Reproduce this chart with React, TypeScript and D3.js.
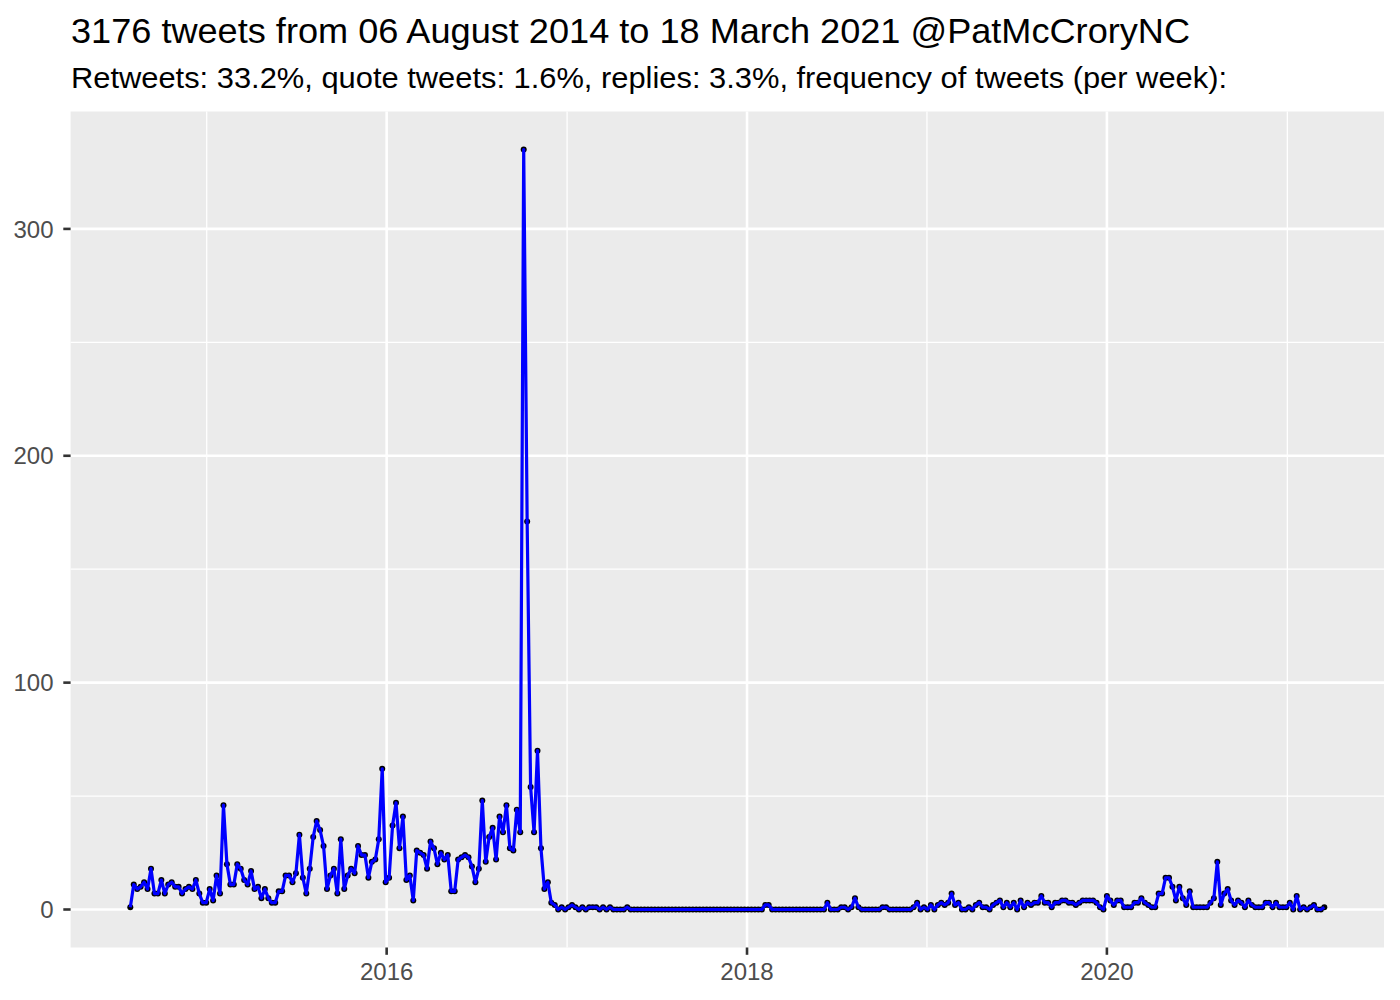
import React from "react";
import * as d3 from "d3";

// ---- data ----
const titleText = "3176 tweets from 06 August 2014 to 18 March 2021 @PatMcCroryNC";
const subtitleText =
  "Retweets: 33.2%, quote tweets: 1.6%, replies: 3.3%, frequency of tweets (per week):";

const firstWeek = "2014-07-30";

const weeklyCounts = [
  1, 11, 9, 10, 12, 9, 18, 7, 7, 13, 7, 11, 12, 10, 10, 7, 9, 10, 9, 13, 7, 3, 3, 9, 4, 15, 7, 46,
  20, 11, 11, 20, 18, 13, 11, 17, 9,
  10, 5, 9, 5, 3, 3, 8, 8, 15, 15, 12, 16, 33, 14, 7, 18, 32, 39, 35, 28, 9, 15, 18, 7, 31, 9, 15,
  18, 16, 28, 24, 24, 14, 21, 22, 31, 62,
  12, 14, 37, 47, 27, 41, 13, 15, 4, 26, 25, 24, 18, 30, 27, 20, 25, 22, 24, 8, 8, 22, 23, 24, 23,
  19, 12, 18, 48, 21, 32, 36, 22, 41, 34, 46, 27, 26, 44, 34,
  335, 171, 54, 34, 70, 27, 9, 12, 3, 2, 0, 1, 0, 1, 2,
  1, 0, 1, 0, 1, 1, 1, 0, 1, 0, 1, 0, 0, 0, 0, 1,
  0, 0, 0, 0, 0, 0, 0, 0, 0, 0, 0, 0, 0, 0, 0, 0, 0, 0, 0, 0, 0, 0, 0, 0, 0, 0, 0, 0, 0, 0, 0, 0,
  0, 0, 0, 0, 0, 0, 0,
  2, 2,
  0, 0, 0, 0, 0, 0, 0, 0, 0, 0, 0, 0, 0, 0, 0, 0,
  3, 0, 0, 0, 1, 1, 0, 1, 5, 1, 0, 0, 0, 0, 0, 0, 1, 1, 0, 0, 0, 0, 0, 0, 0, 1, 3, 0, 1, 0, 2, 0, 2,
  3, 2, 3, 7, 2, 3, 0, 0, 1, 0, 2, 3, 1, 1, 0, 2, 3, 4, 1, 3, 1, 3, 0, 4, 1, 3, 2, 3, 3, 6, 3, 3,
  1, 3, 3, 4, 4, 3, 3, 2, 3, 4, 4, 4, 4, 3, 1, 0, 6,
  4, 2, 4, 4, 1, 1, 1, 3, 3, 5, 3, 2, 1, 1,
  7, 7, 14, 14, 10, 4, 10, 5, 2, 8, 1, 1, 1, 1, 1, 3, 5, 21, 2, 7, 9, 4, 2, 4, 3, 1, 4, 2, 1, 1,
  1, 3, 3, 1, 3, 1, 1, 1, 3, 0, 6, 0, 1, 0, 1, 2, 0, 0, 1,
];

const yTickValues = [0, 100, 200, 300];
const yMinorValues = [50, 150, 250];
const xTickYears = [2016, 2018, 2020];
const xMinorYears = [2015, 2017, 2019, 2021];

// ---- layout ----
const W = 1400;
const H = 1000;
const panel = { left: 70.6, right: 1384, top: 111.5, bottom: 947.5 };
const FONT = "'Liberation Sans', Arial, Helvetica, sans-serif";

export default function App() {
  const start = d3.utcParse("%Y-%m-%d")(firstWeek) as Date;
  const data = weeklyCounts.map((v, i) => ({ date: d3.utcDay.offset(start, 7 * i), value: v }));

  const [d0, d1] = d3.extent(data, (d) => d.date) as [Date, Date];
  const span = +d1 - +d0;
  const x = d3
    .scaleUtc()
    .domain([new Date(+d0 - span * 0.05), new Date(+d1 + span * 0.05)])
    .range([panel.left, panel.right]);

  const maxV = d3.max(weeklyCounts) as number;
  const y = d3
    .scaleLinear()
    .domain([-maxV * 0.05, maxV * 1.05])
    .range([panel.bottom, panel.top]);

  const line = d3
    .line<{ date: Date; value: number }>()
    .x((d) => x(d.date))
    .y((d) => y(d.value));

  const yr = (yv: number) => x(new Date(Date.UTC(yv, 0, 1)));

  return (
    <div style={{ position: "absolute", left: 0, top: 0 }}>
      <svg width={W} height={H} style={{ display: "block", background: "#fff" }}>
        <text
          x={71}
          y={42.5}
          fontFamily={FONT}
          fontSize={35}
          fill="#000"
          textLength={1119}
          lengthAdjust="spacingAndGlyphs"
        >
          {titleText}
        </text>
        <text
          x={71}
          y={88.3}
          fontFamily={FONT}
          fontSize={30}
          fill="#000"
          textLength={1156}
          lengthAdjust="spacingAndGlyphs"
        >
          {subtitleText}
        </text>

        <rect
          x={panel.left}
          y={panel.top}
          width={panel.right - panel.left}
          height={panel.bottom - panel.top}
          fill="#EBEBEB"
        />
        {yMinorValues.map((v) => (
          <line key={"ym" + v} x1={panel.left} x2={panel.right} y1={y(v)} y2={y(v)} stroke="#fff" strokeWidth={1.3} />
        ))}
        {xMinorYears.map((v) => (
          <line key={"xm" + v} x1={yr(v)} x2={yr(v)} y1={panel.top} y2={panel.bottom} stroke="#fff" strokeWidth={1.3} />
        ))}
        {yTickValues.map((v) => (
          <line key={"yM" + v} x1={panel.left} x2={panel.right} y1={y(v)} y2={y(v)} stroke="#fff" strokeWidth={2.6} />
        ))}
        {xTickYears.map((v) => (
          <line key={"xM" + v} x1={yr(v)} x2={yr(v)} y1={panel.top} y2={panel.bottom} stroke="#fff" strokeWidth={2.6} />
        ))}

        {data.map((d, i) => (
          <circle key={i} cx={x(d.date)} cy={y(d.value)} r={3} fill="#000" />
        ))}
        <path d={line(data) || ""} fill="none" stroke="#0000FF" strokeWidth={3.2} strokeLinejoin="round" />

        {yTickValues.map((v) => (
          <g key={"yt" + v}>
            <line x1={panel.left - 7.3} x2={panel.left} y1={y(v)} y2={y(v)} stroke="#333" strokeWidth={2.6} />
            <text
              x={53.5}
              y={y(v)}
              dy="0.36em"
              textAnchor="end"
              fontFamily={FONT}
              fontSize={24}
              fill="#4D4D4D"
            >
              {v}
            </text>
          </g>
        ))}
        {xTickYears.map((v) => (
          <g key={"xt" + v}>
            <line x1={yr(v)} x2={yr(v)} y1={panel.bottom} y2={panel.bottom + 7.3} stroke="#333" strokeWidth={2.6} />
            <text x={yr(v)} y={980} textAnchor="middle" fontFamily={FONT} fontSize={24} fill="#4D4D4D">
              {v}
            </text>
          </g>
        ))}
      </svg>
    </div>
  );
}
